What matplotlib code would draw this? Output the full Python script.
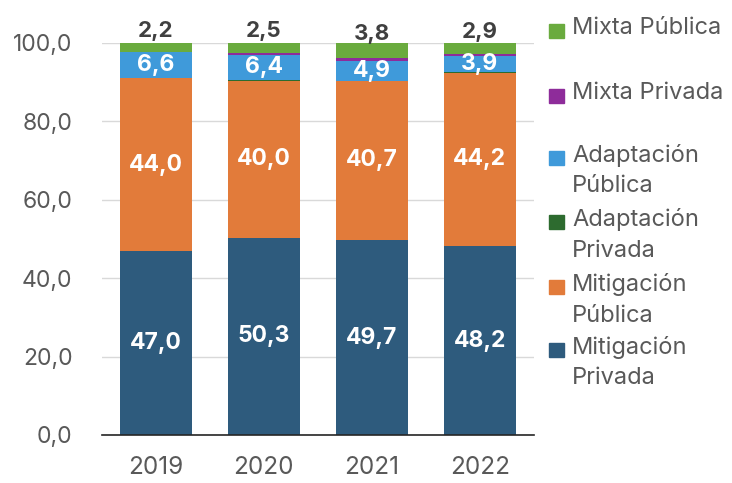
import matplotlib
matplotlib.use("Agg")
import matplotlib.pyplot as plt
from matplotlib.patches import Rectangle
import numpy as np

plt.rcParams['font.family'] = ['Inter', 'DejaVu Sans']

years = ["2019", "2020", "2021", "2022"]
mitigacion_privada = [47.0, 50.3, 49.7, 48.2]
mitigacion_publica = [44.0, 40.0, 40.7, 44.2]
adaptacion_privada = [0.0, 0.3, 0.0, 0.3]
adaptacion_publica = [6.6, 6.4, 4.9, 3.9]
mixta_privada = [0.2, 0.5, 0.9, 0.5]
mixta_publica = [2.2, 2.5, 3.8, 2.9]
y_ticks = [0, 20, 40, 60, 80, 100]

series = [
    ("Mitigación\nPrivada", mitigacion_privada, "#2E5B7D", True),
    ("Mitigación\nPública", mitigacion_publica, "#E27B3A", True),
    ("Adaptación\nPrivada", adaptacion_privada, "#2D6B2F", False),
    ("Adaptación\nPública", adaptacion_publica, "#3F9ADA", True),
    ("Mixta Privada", mixta_privada, "#8E2C9A", False),
    ("Mixta Pública", mixta_publica, "#6AAB3E", True),
]

fig = plt.figure(figsize=(7.32, 4.83), dpi=100)
ax = fig.add_axes([0.139, 0.0994, 0.590, 0.8116])

x = np.arange(len(years))
bottom = np.zeros(len(years))
for name, vals, color, labelled in series:
    vals = np.array(vals)
    ax.bar(x, vals, width=0.667, bottom=bottom, color=color, zorder=3)
    if labelled:
        for xi, b, v in zip(x, bottom, vals):
            if name == "Mixta Pública":
                ax.annotate(f"{v:.1f}".replace(".", ","), (xi, b + v / 2),
                            xytext=(0, 12), textcoords="offset points",
                            ha="center", va="center", fontsize=16,
                            fontweight="bold", color="#404040", zorder=4)
            else:
                ax.text(xi, b + v / 2, f"{v:.1f}".replace(".", ","),
                        ha="center", va="center", fontsize=16.5,
                        fontweight="bold", color="white", zorder=4)
    bottom = bottom + vals

ax.set_xlim(-0.5, 3.5)
ax.set_ylim(0, 100)
ax.set_xticks(x)
ax.set_xticklabels(years)
ax.set_yticks(y_ticks)
ax.set_yticklabels([f"{t:.1f}".replace(".", ",") for t in y_ticks])
ax.tick_params(axis="both", length=0, labelcolor="#595959")
ax.tick_params(axis="x", pad=15, labelsize=17.5)
ax.tick_params(axis="y", pad=21, labelsize=16.5)
ax.grid(axis="y", color="#D9D9D9", linewidth=1.0, zorder=0)
for s in ("top", "right", "left"):
    ax.spines[s].set_visible(False)
ax.spines["bottom"].set_color("#262626")
ax.spines["bottom"].set_linewidth(1.2)
ax.spines["bottom"].set_zorder(5)

# Legend drawn in figure pixel coordinates: square + (possibly two-line) label
W, H = 732, 483
legend_rows = [
    ("Mixta Pública", "#6AAB3E", 31),
    ("Mixta Privada", "#8E2C9A", 96),
    ("Adaptación\nPública", "#3F9ADA", 158),
    ("Adaptación\nPrivada", "#2D6B2F", 222),
    ("Mitigación\nPública", "#E27B3A", 287),
    ("Mitigación\nPrivada", "#2E5B7D", 350),
]
for label, color, ypix in legend_rows:
    fig.patches.append(Rectangle((549 / W, 1 - (ypix + 7) / H), 15 / W, 14 / H,
                                 transform=fig.transFigure, color=color))
    fig.text(572 / W, 1 - (ypix - 14) / H, label, ha="left", va="top",
             fontsize=17, color="#595959", linespacing=1.5)

fig.savefig("out.png", dpi=100)
